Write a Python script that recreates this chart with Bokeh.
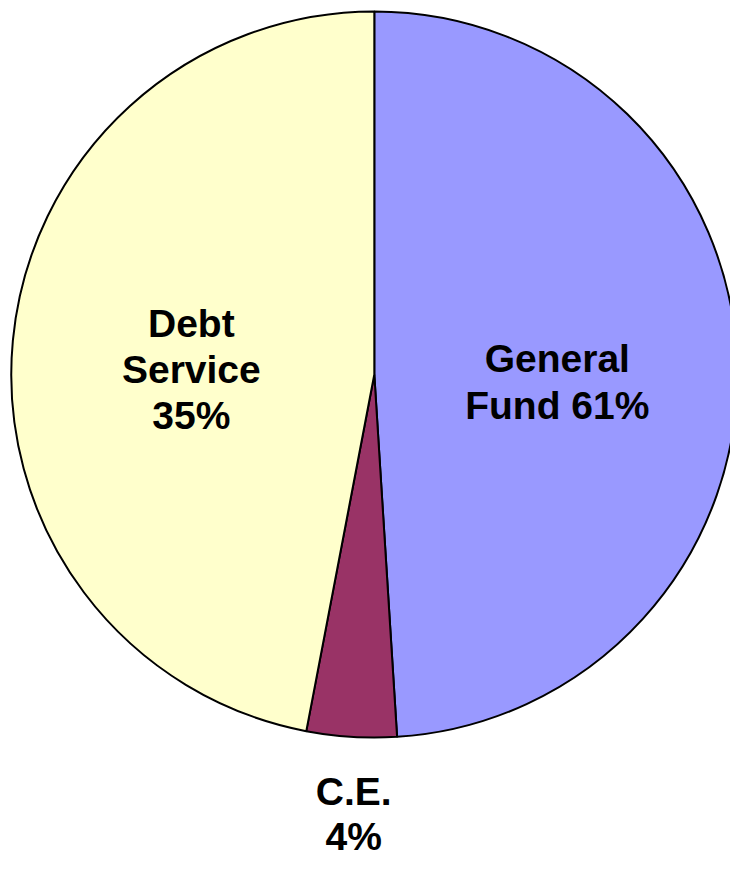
import math
from bokeh.plotting import figure
from bokeh.models import Range1d, ColumnDataSource
from bokeh.core.properties import value
from bokeh.embed import file_html
from bokeh.resources import INLINE

# Data (slice shares, label texts as printed)
categories = ["General Fund", "C.E.", "Debt Service"]
shares = [49.0, 4.0, 47.0]
colors = ["#9999FF", "#993366", "#FFFFCC"]
label_texts = [["General", "Fund 61%"], ["C.E.", "4%"], ["Debt", "Service", "35%"]]

# Figure fits the window; data units follow the reference's 746x876 frame
W, H = 730, 860
RW, RH = 746, 876
p = figure(width=W, height=H, output_backend="svg", toolbar_location=None,
           x_range=Range1d(0, RW), y_range=Range1d(0, RH), min_border=0,
           tools="")
p.axis.visible = False
p.grid.visible = False
p.outline_line_color = None
p.background_fill_color = "white"
p.border_fill_color = "white"

cx, cy, r = 382, RH - 381, 371
total = sum(shares)
starts, ends = [], []
acc = 0.0
for s in shares:
    starts.append(math.pi / 2 - 2 * math.pi * acc / total)
    acc += s
    ends.append(math.pi / 2 - 2 * math.pi * acc / total)

src = ColumnDataSource(dict(cat=categories, start=starts, end=ends, color=colors))
p.wedge(x=cx, y=cy, radius=r, start_angle="start", end_angle="end",
        direction="clock", fill_color="color", line_color="black",
        line_width=2, source=src)

# label anchors: (x, first-line baseline from top, line spacing)
anchors = [(569, 365, 48), (361, 806, 46), (195, 329, 47)]
xs, ys, ts = [], [], []
for lines, (ax, ay, sp) in zip(label_texts, anchors):
    for i, t in enumerate(lines):
        xs.append(ax)
        ys.append(RH - (ay + i * sp))
        ts.append(t)

p.text(x=xs, y=ys, text=ts, text_font=value("Liberation Sans"),
       text_font_style="bold", text_font_size="39px", text_align="center",
       text_baseline="alphabetic", text_color="black")

open("out.html", "w").write(file_html(p, INLINE))
